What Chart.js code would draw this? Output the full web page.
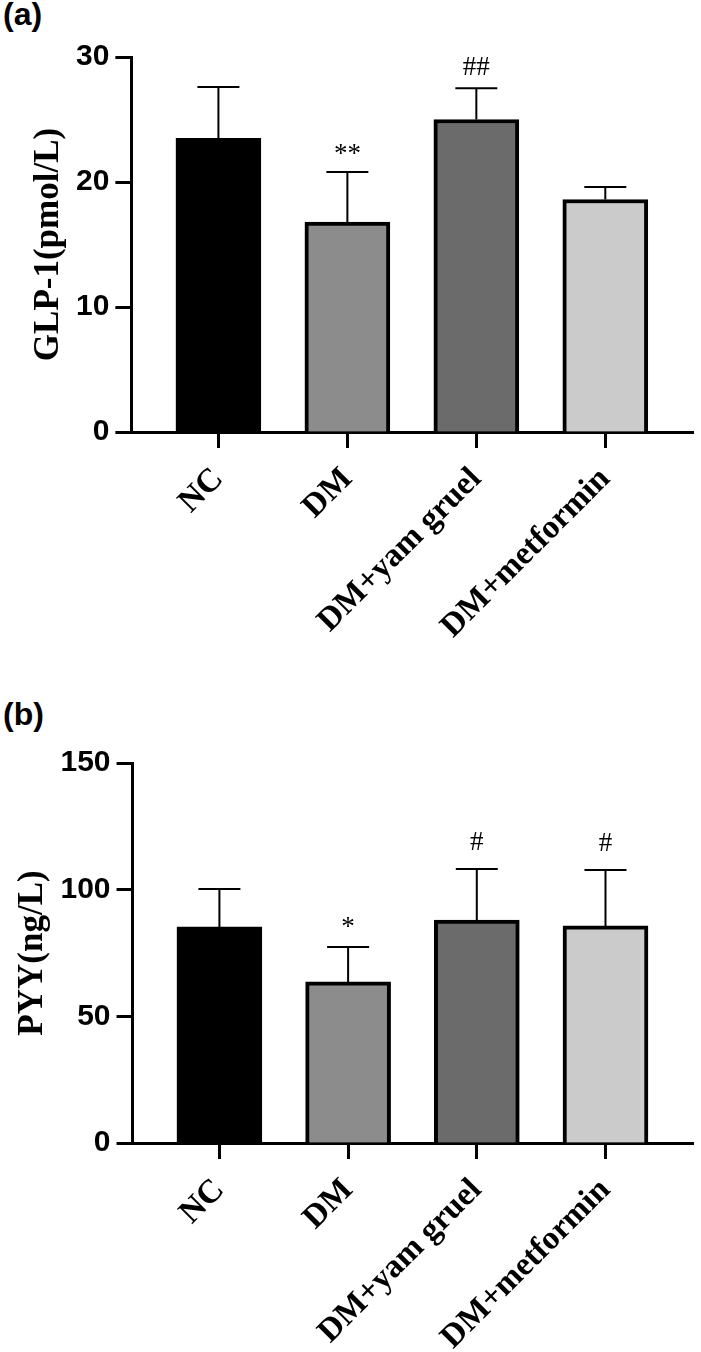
<!DOCTYPE html>
<html>
<head>
<meta charset="utf-8">
<script src="https://cdn.jsdelivr.net/npm/chart.js@4.4.1/dist/chart.umd.min.js"></script>
<style>
  html, body { margin: 0; padding: 0; background: #fff; }
  body { width: 701px; height: 1352px; position: relative; overflow: hidden; }
  .panel { position: absolute; left: 0; width: 701px; }
  .tag { position: absolute; left: 3px; font: bold 32px "Liberation Sans", Arial, sans-serif; line-height: 32px; color: #000; }
  canvas { display: block; }
</style>
</head>
<body>
<div class="tag" style="top:-2px">(a)</div>
<div class="panel" style="top:0;height:690px"><canvas id="cA" width="701" height="690"></canvas></div>
<div class="tag" style="top:698px">(b)</div>
<div class="panel" style="top:690px;height:662px"><canvas id="cB" width="701" height="662"></canvas></div>
<script>
// ---- data ----
const categories = ['NC', 'DM', 'DM+yam gruel', 'DM+metformin'];
const glp1Mean = [23.5, 16.8, 25.0, 18.6];
const glp1Err  = [4.1, 4.0, 2.5, 1.0];
const glp1Marks = ['', '**', '##', ''];
const glp1Ticks = [0, 10, 20, 30];
const pyyMean = [85.3, 63.6, 88.0, 85.7];
const pyyErr  = [15.0, 13.8, 20.2, 22.1];
const pyyMarks = ['', '*', '#', '#'];
const pyyTicks = [0, 50, 100, 150];
const barColors = ['#000000', '#8c8c8c', '#6b6b6b', '#cbcbcb'];

function errPlugin(means, errs, marks, gap, hashExtra) {
  return {
    id: 'errbars',
    afterDatasetsDraw(chart) {
      const ctx = chart.ctx, xs = chart.scales.x, ys = chart.scales.y;
      ctx.save();
      ctx.strokeStyle = '#000';
      ctx.fillStyle = '#000';
      ctx.lineWidth = 2;
      means.forEach((m, i) => {
        const x = xs.getPixelForValue(i);
        const yb = ys.getPixelForValue(m);
        const yt = ys.getPixelForValue(m + errs[i]);
        ctx.beginPath();
        ctx.moveTo(x, yb); ctx.lineTo(x, yt);
        ctx.moveTo(x - 21, yt); ctx.lineTo(x + 21, yt);
        ctx.stroke();
        if (marks[i]) {
          ctx.font = '27px "Liberation Serif", "Times New Roman", serif';
          ctx.textAlign = 'center';
          ctx.textBaseline = 'alphabetic';
          const g = gap + (marks[i].indexOf('#') >= 0 ? hashExtra : 0);
          ctx.fillText(marks[i], x, yt - g);
        }
      });
      ctx.restore();
    }
  };
}

function makeChart(id, means, errs, marks, ticks, title, cfg) {
  const serifBold = { family: '"Liberation Serif", "Times New Roman", serif', weight: 'bold' };
  return new Chart(document.getElementById(id), {
    type: 'bar',
    data: {
      datasets: [{
        data: means.map((v, i) => ({ x: i, y: v })),
        backgroundColor: barColors,
        borderColor: '#000',
        borderWidth: 4,
        borderSkipped: 'start',
        barThickness: 85
      }]
    },
    options: {
      responsive: false,
      maintainAspectRatio: false,
      animation: false,
      events: [],
      layout: { padding: { left: 3, top: cfg.top, right: 8, bottom: 0 } },
      plugins: { legend: { display: false }, tooltip: { enabled: false } },
      scales: {
        x: {
          type: 'linear',
          offset: false,
          min: -0.675,
          max: 3.68,
          z: 1,
          afterBuildTicks: s => { s.ticks = categories.map((_, i) => ({ value: i })); },
          afterFit: s => { s.height = cfg.xh; },
          ticks: {
            callback: v => categories[v],
            autoSkip: false,
            minRotation: 45,
            maxRotation: 45,
            color: '#000',
            padding: cfg.xpad,
            font: Object.assign({ size: 33 }, serifBold)
          },
          grid: { offset: false, drawOnChartArea: false, color: '#000', tickLength: 16, tickWidth: 3 },
          border: { color: '#000', width: 3 }
        },
        y: {
          min: ticks[0],
          max: ticks[ticks.length - 1],
          z: 1,
          afterBuildTicks: s => { s.ticks = ticks.map(v => ({ value: v })); },
          ticks: {
            color: '#000',
            padding: 6,
            font: { family: '"Liberation Sans", Arial, sans-serif', weight: 'bold', size: 30 }
          },
          grid: { drawOnChartArea: false, color: '#000', tickLength: 16, tickWidth: 3 },
          border: { color: '#000', width: 3 },
          title: {
            display: true,
            text: title,
            color: '#000',
            padding: { top: cfg.tp, bottom: cfg.tb },
            font: Object.assign({ size: 35, lineHeight: 1.2 }, serifBold)
          }
        }
      }
    },
    plugins: [errPlugin(means, errs, marks, cfg.gap, cfg.hashExtra)]
  });
}

makeChart('cA', glp1Mean, glp1Err, glp1Marks, glp1Ticks, 'GLP-1(pmol/L)',
  { top: 57, xh: 258, tp: 25, tb: 0, gap: 10, hashExtra: 3, xpad: 12 });
makeChart('cB', pyyMean, pyyErr, pyyMarks, pyyTicks, 'PYY(ng/L)',
  { top: 73, xh: 209, tp: 8.5, tb: 1, gap: 12, hashExtra: 7, xpad: 12 });
</script>
</body>
</html>
